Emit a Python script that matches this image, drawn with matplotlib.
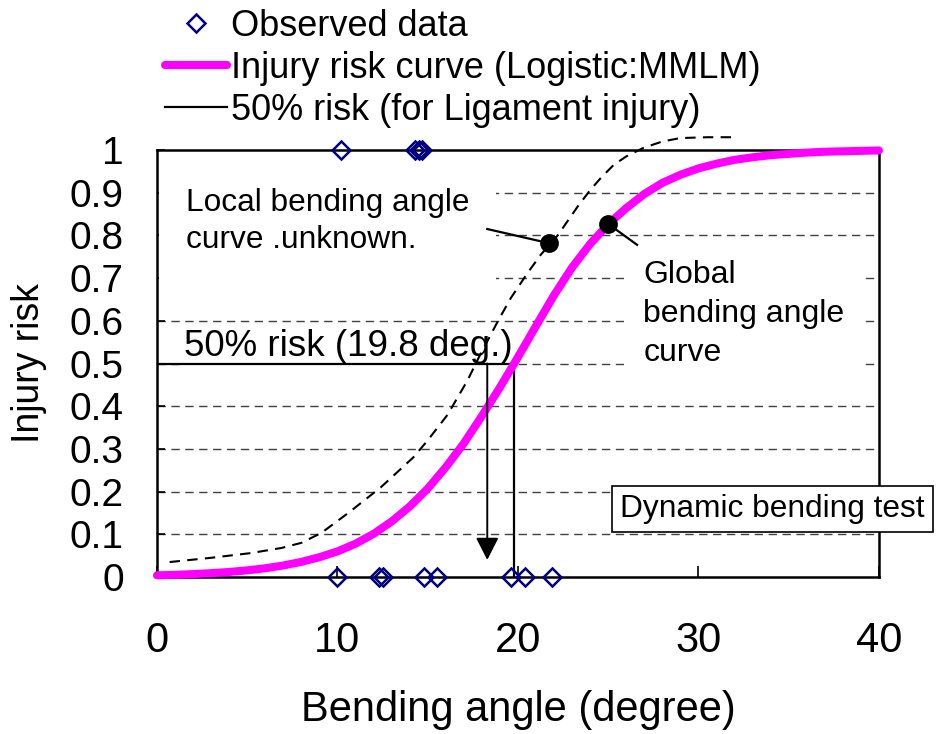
import matplotlib
matplotlib.use('Agg')
import matplotlib.pyplot as plt

plt.rcParams['font.family'] = ['Liberation Sans', 'DejaVu Sans']

# observed data (bending angle, injured 1 / not injured 0)
obsAngle1 = [10.2, 14.3, 14.5, 14.7]
obsRisk1 = [1, 1, 1, 1]
obsAngle0 = [10.0, 12.3, 12.55, 14.8, 15.5, 19.6, 20.4, 21.9]
obsRisk0 = [0, 0, 0, 0, 0, 0, 0, 0]

# global bending angle risk curve (logistic)
curveAngle = list(range(0, 41))
curveRisk = [0.0039, 0.0051, 0.0068, 0.0090, 0.0118, 0.0156, 0.0205, 0.0270, 0.0354, 0.0464,
             0.060, 0.078, 0.101, 0.130, 0.165, 0.207, 0.257, 0.313, 0.377, 0.444,
             0.515, 0.588, 0.660, 0.725, 0.780, 0.826, 0.864, 0.897, 0.923, 0.942,
             0.957, 0.968, 0.977, 0.983, 0.988, 0.991, 0.994, 0.996, 0.997, 0.998, 0.999]

# local bending angle curve (dashed)
localAngle = [0.7, 3.0, 5.2, 6.9, 8.0, 9.1, 10.6, 12.4, 14.2, 15.0, 16.1, 17.2, 17.9, 18.9,
              19.6, 20.5, 21.25, 22.2, 23.3, 24.0, 24.6, 25.3, 26.0, 26.95, 28.0, 29.0, 30.5, 32.2]
localRisk = [0.035, 0.045, 0.056, 0.068, 0.080, 0.103, 0.150, 0.210, 0.280, 0.320, 0.380, 0.460,
             0.520, 0.600, 0.653, 0.710, 0.754, 0.800, 0.867, 0.906, 0.935, 0.965, 0.985, 1.005,
             1.020, 1.028, 1.030, 1.030]

risk50Angle = 19.8
localArrowAngle = 18.3
dots = [(21.7, 0.782), (25.0, 0.827)]

yTicks = [0, 0.1, 0.2, 0.3, 0.4, 0.5, 0.6, 0.7, 0.8, 0.9, 1]
yTickLabels = ['0', '0.1', '0.2', '0.3', '0.4', '0.5', '0.6', '0.7', '0.8', '0.9', '1']
xTicks = [0, 10, 20, 30, 40]

fig = plt.figure(figsize=(9.4, 7.34), dpi=100)
ax = fig.add_axes([0.167, 0.2139, 0.768, 0.5817])

for yv in yTicks[1:-1]:
    ax.axhline(yv, color='#404040', lw=1.0, ls=(0, (6, 4)), zorder=0.5)

# dashed local curve
ax.plot(localAngle, localRisk, color='black', lw=1.5, ls=(0, (5, 3.5)), clip_on=False, zorder=3)

# 50% lines
ax.plot([0, risk50Angle], [0.5, 0.5], color='black', lw=1.6, zorder=3,
        label='50% risk (for Ligament injury)')
ax.plot([risk50Angle, risk50Angle], [0.5, 0], color='black', lw=1.6, zorder=3)

# magenta risk curve
ax.plot(curveAngle, curveRisk, color='#FF00FF', lw=5.8, solid_capstyle='round',
        clip_on=False, zorder=4, label='Injury risk curve (Logistic:MMLM)')

# observed data
ax.plot(obsAngle1, obsRisk1, ls='none', marker='D', ms=9.5, mfc='none', mec='#000080',
        mew=1.8, clip_on=False, zorder=6, label='Observed data')
ax.plot(obsAngle0, obsRisk0, ls='none', marker='D', ms=9.5, mfc='none', mec='#000080',
        mew=1.8, clip_on=False, zorder=6)

# arrow down to local angle
ax.annotate('', xy=(localArrowAngle, 0.04), xytext=(localArrowAngle, 0.5),
            arrowprops=dict(arrowstyle='-|>,head_length=0.98,head_width=0.5', mutation_scale=14,
                            color='black', lw=1.4, shrinkA=0, shrinkB=0), zorder=5)

# annotation leaders and dots
ax.plot([18.3, dots[0][0]], [0.815, dots[0][1]], color='black', lw=1.6, zorder=5)
ax.plot([dots[1][0], 26.6], [dots[1][1], 0.778], color='black', lw=1.6, zorder=5)
ax.plot([d[0] for d in dots], [d[1] for d in dots], ls='none', marker='o', ms=12.5,
        color='black', zorder=7)

ax.text(1.6, 0.912, 'Local bending angle\ncurve .unknown.', fontsize=22.8, va='top', ha='left',
        linespacing=1.32, zorder=2,
        bbox=dict(boxstyle='square,pad=0.85', fc='white', ec='none'))
ax.text(1.5, 0.54, '50% risk (19.8 deg.)', fontsize=26.5, va='center', ha='left', zorder=2,
        bbox=dict(boxstyle='square,pad=0.15', fc='white', ec='none'))
ax.text(26.95, 0.742, 'Global\nbending angle\ncurve', fontsize=23, va='top', ha='left',
        linespacing=1.38, zorder=2,
        bbox=dict(boxstyle='square,pad=0.6', fc='white', ec='none'))
ax.text(34.1, 0.159, 'Dynamic bending test', fontsize=22.8, va='center', ha='center',
        zorder=8, clip_on=False,
        bbox=dict(boxstyle='square,pad=0.25', fc='white', ec='black', lw=1.2))

ax.set_xlim(0, 40)
ax.set_ylim(0, 1)
ax.set_xticks(xTicks)
ax.set_yticks(yTicks)
ax.set_yticklabels(yTickLabels)
ax.tick_params(axis='y', direction='in', length=6, width=1.2, labelsize=28, pad=24)
ax.tick_params(axis='x', direction='in', length=8, width=1.2, labelsize=30, pad=32)
for s in ax.spines.values():
    s.set_linewidth(1.8)

ax.set_xlabel('Bending angle (degree)', fontsize=30)
ax.xaxis.set_label_coords(0.5, -0.265)
ax.set_ylabel('Injury risk', fontsize=27)
ax.yaxis.set_label_coords(-0.152, 0.5)

h, l = ax.get_legend_handles_labels()
order = [2, 1, 0]
fig.legend([h[i] for i in order], [l[i] for i in order], loc='upper left',
           bbox_to_anchor=(156 / 940, 1.0), frameon=False, fontsize=26, handlelength=1.72,
           handletextpad=0.12, labelspacing=0.19, borderpad=0, borderaxespad=0.25)

plt.savefig('out.png', dpi=100)
